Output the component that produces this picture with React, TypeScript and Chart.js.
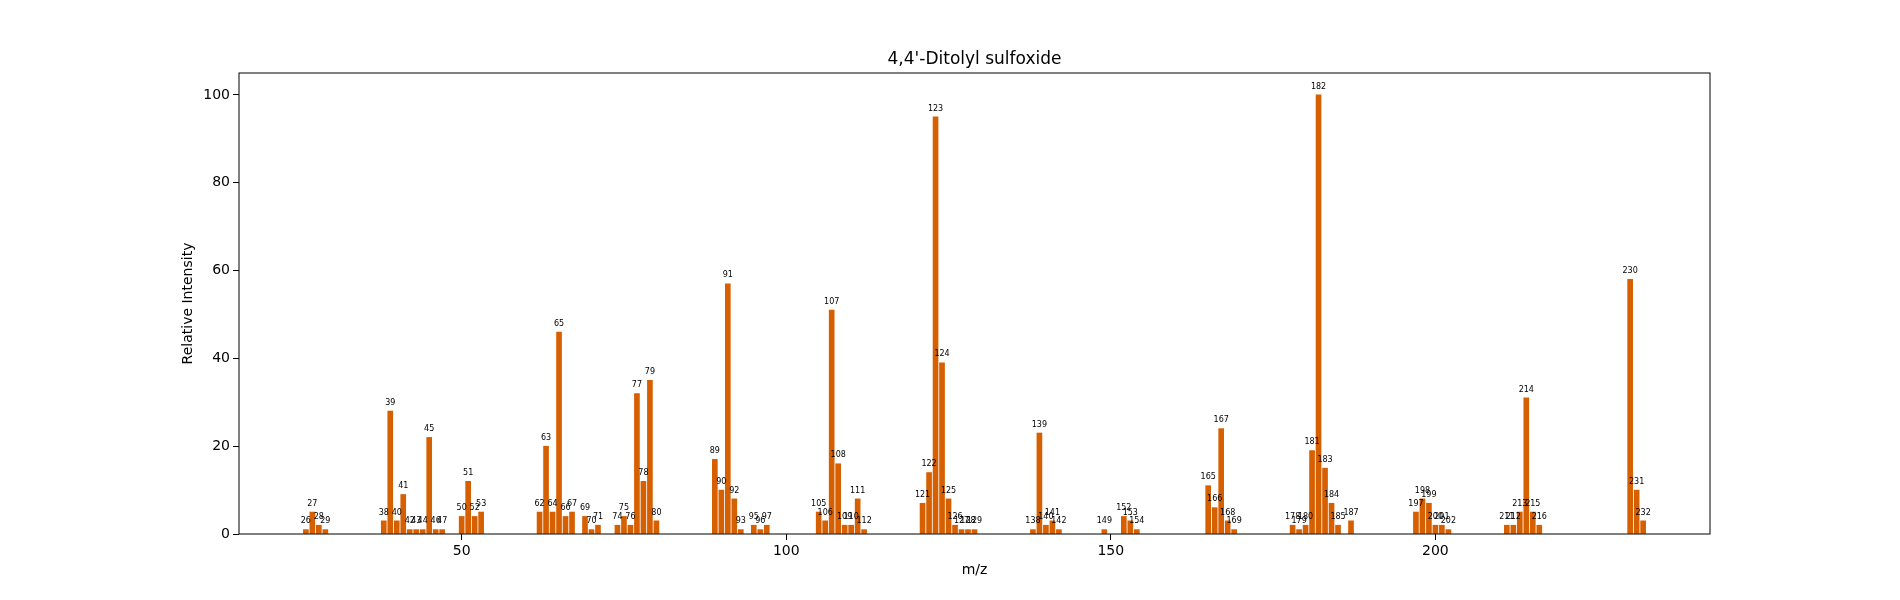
import React, { useEffect, useRef } from "react";
import { Chart, registerables } from "chart.js";
Chart.register(...registerables);

const TITLE = "4,4'-Ditolyl sulfoxide";
const X_TITLE = "m/z";
const Y_TITLE = "Relative Intensity";
const mz = [26,27,28,29,38,39,40,41,42,43,44,45,46,47,50,51,52,53,62,63,64,65,66,67,69,70,71,74,75,76,77,78,79,80,89,90,91,92,93,95,96,97,105,106,107,108,109,110,111,112,121,122,123,124,125,126,127,128,129,138,139,140,141,142,149,152,153,154,165,166,167,168,169,178,179,180,181,182,183,184,185,187,197,198,199,200,201,202,211,212,213,214,215,216,230,231,232];
const intensity = [1,5,2,1,3,28,3,9,1,1,1,22,1,1,4,12,4,5,5,20,5,46,4,5,4,1,2,2,4,2,32,12,35,3,17,10,57,8,1,2,1,2,5,3,51,16,2,2,8,1,7,14,95,39,8,2,1,1,1,1,23,2,3,1,1,4,3,1,11,6,24,3,1,2,1,2,19,100,15,7,2,3,5,8,7,2,2,1,2,2,5,31,5,2,58,10,3];
const xTicks = [50, 100, 150, 200];
const yTicks = [0, 20, 40, 60, 80, 100];

const FONT = "'DejaVu Sans', sans-serif";
const L = 239, R = 1710, T = 73, B = 534;

export default function App() {
  const ref = useRef<HTMLCanvasElement>(null);
  useEffect(() => {
    document.body.style.margin = "0";
    const labelPlugin = {
      id: "labels",
      afterDatasetsDraw(chart: any) {
        const ctx = chart.ctx;
        const xs = chart.scales.x, ys = chart.scales.y;
        const a = chart.chartArea;
        ctx.save();
        ctx.fillStyle = "#000";
        ctx.font = `8px ${FONT}`;
        ctx.textAlign = "center";
        ctx.textBaseline = "bottom";
        mz.forEach((m, i) => {
          ctx.fillText(String(m), xs.getPixelForValue(m), ys.getPixelForValue(intensity[i] + 1));
        });
        ctx.strokeStyle = "#000";
        ctx.lineWidth = 1;
        ctx.strokeRect(a.left, a.top, a.right - a.left, a.bottom - a.top);
        ctx.font = `17px ${FONT}`;
        ctx.fillText(TITLE, (a.left + a.right) / 2, a.top - 5);
        ctx.font = `14px ${FONT}`;
        ctx.textBaseline = "middle";
        ctx.fillText(X_TITLE, (a.left + a.right) / 2, 570);
        ctx.translate(188, (a.top + a.bottom) / 2);
        ctx.rotate(-Math.PI / 2);
        ctx.fillText(Y_TITLE, 0, 0);
        ctx.restore();
      },
    };
    const chart = new Chart(ref.current!, {
      type: "bar",
      data: {
        datasets: [{
          data: mz.map((m, i) => ({ x: m, y: intensity[i] })),
          backgroundColor: "#d65f00",
          barThickness: 5,
        }],
      },
      options: {
        animation: false,
        responsive: false,
        layout: { padding: { left: 0, top: T, right: 1900 - R, bottom: 0 } },
        plugins: { legend: { display: false }, tooltip: { enabled: false } },
        scales: {
          x: {
            type: "linear", min: 15.7, max: 242.3, offset: false, bounds: "ticks",
            afterBuildTicks: (s: any) => { s.ticks = xTicks.map((v) => ({ value: v })); },
            afterDataLimits: (s: any) => { s.min = 15.7; s.max = 242.3; },
            afterFit: (s: any) => { s.height = 600 - B; },
            grid: { offset: false, drawOnChartArea: false, drawTicks: true, tickLength: 6, color: "#000" },
            border: { display: false },
            ticks: { color: "#000", font: { family: FONT, size: 14 }, padding: 3, maxRotation: 0 },
          },
          y: {
            min: 0, max: 105,
            afterBuildTicks: (s: any) => { s.ticks = yTicks.map((v) => ({ value: v })); },
            afterFit: (s: any) => { s.width = L; },
            grid: { drawOnChartArea: false, drawTicks: true, tickLength: 6, color: "#000" },
            border: { display: false },
            ticks: { color: "#000", font: { family: FONT, size: 14 }, padding: 3 },
          },
        },
      },
      plugins: [labelPlugin],
    });
    return () => chart.destroy();
  }, []);
  return <canvas ref={ref} width={1900} height={600} style={{ display: "block" }} />;
}
